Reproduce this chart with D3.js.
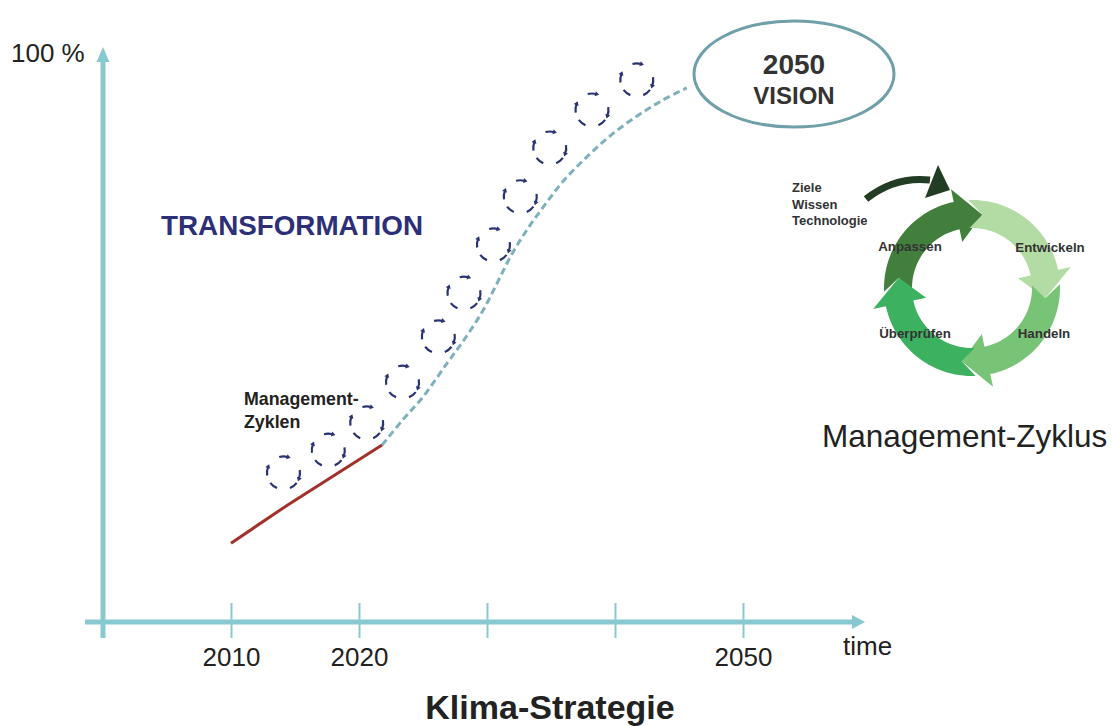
<!DOCTYPE html>
<html>
<head>
<meta charset="utf-8">
<script src="https://cdn.jsdelivr.net/npm/d3@7"></script>
<style>
  html, body { margin: 0; padding: 0; background: #fff; }
  svg { display: block; }
  text { font-family: "Liberation Sans", Arial, sans-serif; }
</style>
</head>
<body>
<svg id="chart" width="1112" height="726"></svg>
<script>
// ---- data ----
const tickYears = [2010, 2020, 2030, 2040, 2050];
const labelledYears = [2010, 2020, 2050];

// measured path so far (year, share in %)
const pastYears = [2010.0, 2014.4, 2021.8];
const pastValues = [13.9, 20.6, 31.2];

// projected transformation path towards the 2050 vision
const pathYears = [2021.8, 2023.4, 2025.0, 2026.9, 2028.4, 2029.7, 2030.8, 2031.9, 2033.1, 2034.4, 2035.9, 2037.7, 2039.6, 2041.7, 2043.7, 2045.6];
const pathValues = [31.2, 35.6, 39.7, 45.7, 50.4, 55.0, 59.8, 64.7, 69.1, 73.2, 77.6, 81.8, 85.7, 89.2, 92.0, 94.2];

// management cycles along the way
const cycleYears = [2014.1, 2017.6, 2020.6, 2023.4, 2026.2, 2028.2, 2030.5, 2032.6, 2034.9, 2038.2, 2041.7];
const cycleValues = [26.3, 30.3, 35.1, 42.3, 50.3, 58.0, 66.5, 75.0, 83.6, 90.3, 95.6];

// management cycle stages (clockwise, each ending at its arrow head)
const stageNames = ["Anpassen", "Entwickeln", "Handeln", "Überprüfen"];
const stageColors = ["#437f3c", "#b3dba4", "#77c477", "#3cb160"];
const inputs = ["Ziele", "Wissen", "Technologie"];

// ---- setup ----
const svg = d3.select("#chart");
const axisColor = "#88c9d1";

const x = d3.scaleLinear().domain([2000, 2050]).range([103, 743]);
const y = d3.scaleLinear().domain([0, 100]).range([622, 55]);

// ---- axes ----
const xAxis = d3.axisBottom(x)
  .tickValues(tickYears)
  .tickFormat(d => labelledYears.includes(d) ? d : "")
  .tickSize(0);
const gx = svg.append("g").attr("transform", `translate(0,${y(0)})`).call(xAxis);
gx.select(".domain").remove();
gx.selectAll(".tick line")
  .attr("y1", -19).attr("y2", 16)
  .attr("stroke", axisColor).attr("stroke-width", 2);
gx.selectAll(".tick text")
  .attr("y", 44).attr("dy", 0)
  .attr("fill", "#222").attr("font-size", 26)
  .attr("font-family", "Liberation Sans, Arial, sans-serif");

// horizontal axis line + arrow
svg.append("line")
  .attr("x1", 85).attr("x2", 853).attr("y1", y(0)).attr("y2", y(0))
  .attr("stroke", axisColor).attr("stroke-width", 5);
svg.append("path")
  .attr("d", `M852,${y(0) - 7}L865,${y(0)}L852,${y(0) + 7}Z`)
  .attr("fill", axisColor);

// vertical axis line + arrow
svg.append("line")
  .attr("x1", x(2000)).attr("x2", x(2000)).attr("y1", 638).attr("y2", 61)
  .attr("stroke", axisColor).attr("stroke-width", 5);
svg.append("path")
  .attr("d", `M${x(2000) - 6.5},62L${x(2000)},47L${x(2000) + 6.5},62Z`)
  .attr("fill", axisColor);

svg.append("text").attr("x", 11).attr("y", 62)
  .attr("font-size", 26).attr("fill", "#222").text("100 %");
svg.append("text").attr("x", 843).attr("y", 655)
  .attr("font-size", 26).attr("fill", "#222").text("time");

// ---- lines ----
svg.append("path")
  .datum(d3.zip(pathYears, pathValues))
  .attr("d", d3.line().x(d => x(d[0])).y(d => y(d[1])).curve(d3.curveCatmullRom.alpha(0.5)))
  .attr("fill", "none").attr("stroke", "#7fb1bc")
  .attr("stroke-width", 3).attr("stroke-dasharray", "7,4");

svg.append("path")
  .datum(d3.zip(pastYears, pastValues))
  .attr("d", d3.line().x(d => x(d[0])).y(d => y(d[1])))
  .attr("fill", "none").attr("stroke", "#a3302a").attr("stroke-width", 3);

// ---- small management cycles (dashed circles with arrow heads) ----
const navy = "#2b3472";
const dashAngles = [0, 95, 142, 218, 276];
const dashHeads = [true, true, false, false, true];
const rr = 16.5;
const halfDash = 15;
const deg = Math.PI / 180;
const cycleG = svg.append("g");
d3.zip(cycleYears, cycleValues).forEach(([yr, v]) => {
  const g = cycleG.append("g").attr("transform", `translate(${x(yr)},${y(v)})`);
  dashAngles.forEach((a, i) => {
    const a0 = (a - halfDash) * deg, a1 = (a + halfDash) * deg;
    const p = d3.path();
    p.arc(0, 0, rr, a0 - Math.PI / 2, a1 - Math.PI / 2, false);
    g.append("path").attr("d", p.toString())
      .attr("fill", "none").attr("stroke", navy).attr("stroke-width", 2.2);
    if (dashHeads[i]) {
      const e = a1;
      const px = rr * Math.sin(e), py = -rr * Math.cos(e);
      const tx = Math.cos(e), ty = Math.sin(e);
      const nx = Math.sin(e), ny = -Math.cos(e);
      const tip = [px + tx * 3, py + ty * 3];
      const b1 = [px - tx * 1 + nx * 2.6, py - ty * 1 + ny * 2.6];
      const b2 = [px - tx * 1 - nx * 2.6, py - ty * 1 - ny * 2.6];
      g.append("path").attr("d", `M${tip}L${b1}L${b2}Z`).attr("fill", navy);
    }
  });
});

// ---- text annotations ----
svg.append("text").attr("x", 161).attr("y", 235)
  .attr("font-size", 27.8).attr("font-weight", "bold").attr("fill", "#2d2f78")
  .text("TRANSFORMATION");

svg.append("text").attr("x", 244).attr("y", 405)
  .attr("font-size", 17.8).attr("font-weight", "bold").attr("fill", "#222")
  .text("Management-");
svg.append("text").attr("x", 244).attr("y", 428)
  .attr("font-size", 17.8).attr("font-weight", "bold").attr("fill", "#222")
  .text("Zyklen");

// 2050 vision ellipse
svg.append("ellipse").attr("cx", 794).attr("cy", 74).attr("rx", 100).attr("ry", 53)
  .attr("fill", "none").attr("stroke", "#6f9fa8").attr("stroke-width", 3);
svg.append("text").attr("x", 794).attr("y", 74).attr("text-anchor", "middle")
  .attr("font-size", 28).attr("font-weight", "bold").attr("fill", "#333").text("2050");
svg.append("text").attr("x", 794).attr("y", 104).attr("text-anchor", "middle")
  .attr("font-size", 24).attr("font-weight", "bold").attr("fill", "#333").text("VISION");

svg.append("text").attr("x", 550).attr("y", 719).attr("text-anchor", "middle")
  .attr("font-size", 34).attr("font-weight", "bold").attr("fill", "#222")
  .text("Klima-Strategie");

// ---- management cycle ring ----
const rc = { x: 972, y: 288 };
const Ro = 88, Ri = 60, Rm = (Ro + Ri) / 2, hw = 13;
const pol = (r, a) => [rc.x + r * Math.sin(a * deg), rc.y - r * Math.cos(a * deg)];
const arcPts = (r, a0, a1) => d3.range(0, 31).map(i => pol(r, a0 + (a1 - a0) * i / 30));
const headSpan = 20;
const f = hw / (hw + Ro - Rm);

stageNames.forEach((name, k) => {
  const tb = 90 * k - 12;             // base of the arrow head
  const tt = tb + headSpan;           // tip of the arrow head
  const tailOut = tb - 90 + f * headSpan;
  const pts = [
    ...arcPts(Ro, tailOut, tb),
    pol(Ro + hw, tb),
    pol(Rm, tt),
    pol(Ri - hw, tb),
    ...arcPts(Ri, tb, tailOut),
    pol(Rm, tb - 90 + headSpan)
  ];
  svg.append("path")
    .attr("d", "M" + pts.join("L") + "Z")
    .attr("fill", stageColors[k]);
});

const stageLabelPos = [[910, 251], [1050, 252], [1044, 338], [915, 338]];
stageNames.forEach((name, k) => {
  svg.append("text").attr("x", stageLabelPos[k][0]).attr("y", stageLabelPos[k][1])
    .attr("text-anchor", "middle").attr("font-size", 13.3).attr("font-weight", "bold")
    .attr("fill", "#333").text(name);
});

// inputs feeding the cycle
inputs.forEach((t, i) => {
  svg.append("text").attr("x", 792).attr("y", 192 + i * 16.5)
    .attr("font-size", 13).attr("font-weight", "bold").attr("fill", "#333").text(t);
});
svg.append("path")
  .attr("d", "M866,199Q895,176 930,180")
  .attr("fill", "none").attr("stroke", "#223d24").attr("stroke-width", 7);
svg.append("path")
  .attr("d", "M938,165L950,190L925,198Z")
  .attr("fill", "#223d24");

svg.append("text").attr("x", 822).attr("y", 447)
  .attr("font-size", 31.5).attr("fill", "#222").text("Management-Zyklus");
</script>
</body>
</html>
